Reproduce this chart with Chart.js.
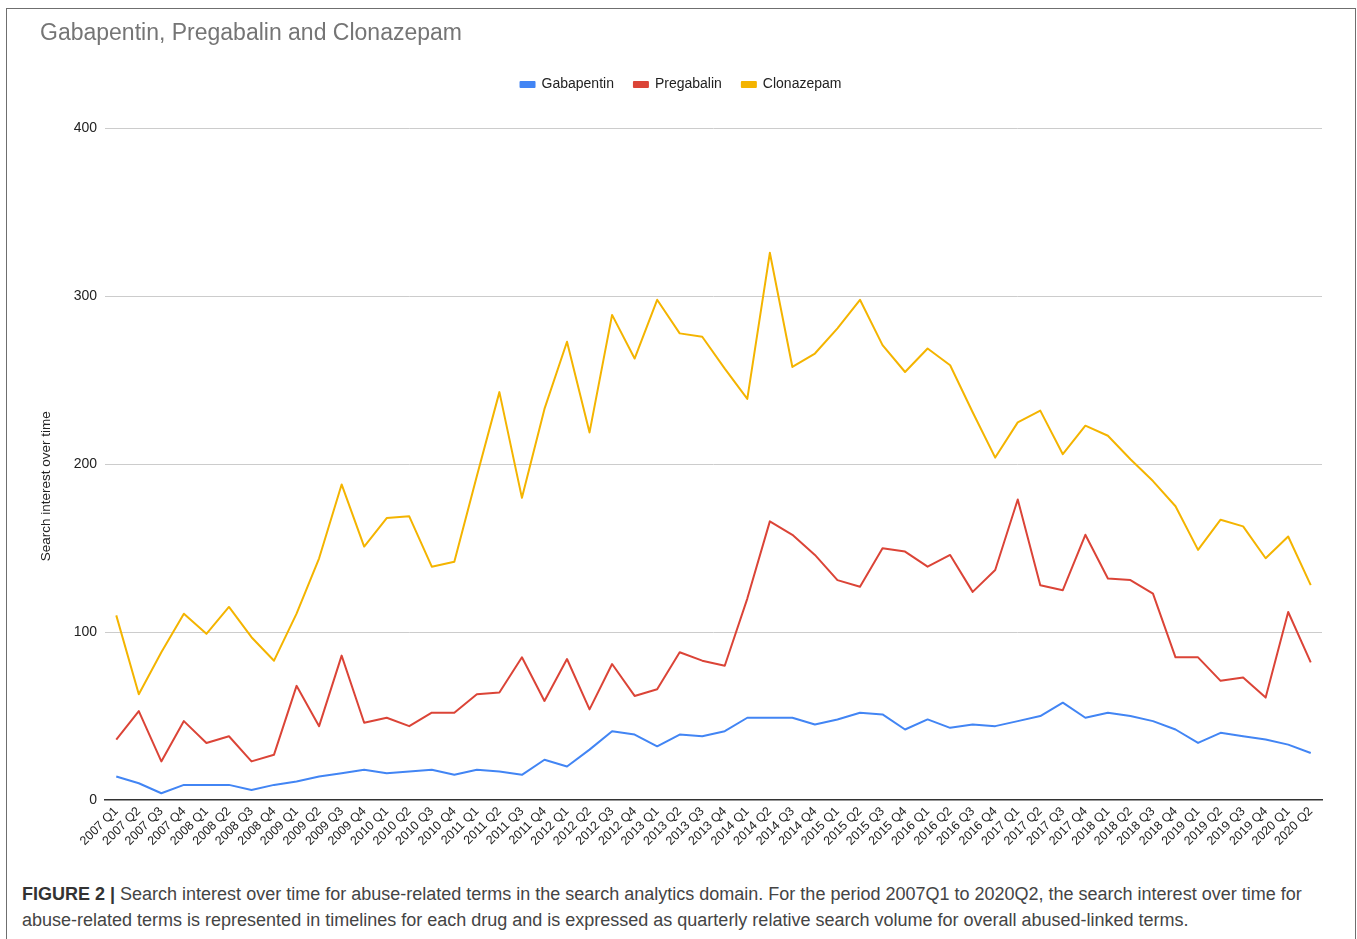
<!DOCTYPE html>
<html>
<head>
<meta charset="utf-8">
<script src="https://cdn.jsdelivr.net/npm/chart.js@4.4.0/dist/chart.umd.min.js"></script>
<style>
  html, body { margin: 0; padding: 0; background: #fff; }
  body { width: 1357px; height: 939px; position: relative; overflow: hidden; font-family: "Liberation Sans", Arial, sans-serif; }
  #frame { position: absolute; left: 6px; top: 8px; width: 1350px; height: 960px; border: 1.5px solid #6f6f6f; border-bottom: none; box-sizing: border-box; }
  #wrap { position: absolute; left: 8px; top: 10px; width: 1346px; height: 862px; }
  #caption { position: absolute; left: 22px; top: 881px; width: 1320px; font-size: 18px; line-height: 26px; color: #444; }
  #caption b { color: #333; }
</style>
</head>
<body>
<div id="frame"></div>
<div id="wrap"><canvas id="c" width="1346" height="862"></canvas></div>
<div id="caption"><b>FIGURE 2 |</b> Search interest over time for abuse-related terms in the search analytics domain. For the period 2007Q1 to 2020Q2, the search interest over time for abuse-related terms is represented in timelines for each drug and is expressed as quarterly relative search volume for overall abused-linked terms.</div>
<script>
const quarters = [
  "2007 Q1","2007 Q2","2007 Q3","2007 Q4",
  "2008 Q1","2008 Q2","2008 Q3","2008 Q4",
  "2009 Q1","2009 Q2","2009 Q3","2009 Q4",
  "2010 Q1","2010 Q2","2010 Q3","2010 Q4",
  "2011 Q1","2011 Q2","2011 Q3","2011 Q4",
  "2012 Q1","2012 Q2","2012 Q3","2012 Q4",
  "2013 Q1","2013 Q2","2013 Q3","2013 Q4",
  "2014 Q1","2014 Q2","2014 Q3","2014 Q4",
  "2015 Q1","2015 Q2","2015 Q3","2015 Q4",
  "2016 Q1","2016 Q2","2016 Q3","2016 Q4",
  "2017 Q1","2017 Q2","2017 Q3","2017 Q4",
  "2018 Q1","2018 Q2","2018 Q3","2018 Q4",
  "2019 Q1","2019 Q2","2019 Q3","2019 Q4",
  "2020 Q1","2020 Q2"
];
const gabapentin = [
  14,10,4,9, 9,9,6,9, 11,14,16,18, 16,17,18,15,
  18,17,15,24, 20,30,41,39, 32,39,38,41, 49,49,49,45,
  48,52,51,42, 48,43,45,44, 47,50,58,49, 52,50,47,42,
  34,40,38,36, 33,28
];
const pregabalin = [
  36,53,23,47, 34,38,23,27, 68,44,86,46, 49,44,52,52,
  63,64,85,59, 84,54,81,62, 66,88,83,80, 120,166,158,146,
  131,127,150,148, 139,146,124,137, 179,128,125,158, 132,131,123,85,
  85,71,73,61, 112,82
];
const clonazepam = [
  110,63,88,111, 99,115,97,83, 111,144,188,151, 168,169,139,142,
  193,243,180,233, 273,219,289,263, 298,278,276,257, 239,326,258,266,
  281,298,271,255, 269,259,231,204, 225,232,206,223, 217,203,190,175,
  149,167,163,144, 157,128
];
const yTicks = [0, 100, 200, 300, 400];
const yTitle = 'Search interest over time';

const FONT = "'Liberation Sans', Arial, sans-serif";

const legendGap = {
  id: 'legendGap',
  beforeInit(chart) {
    const lg = chart.legend;
    const orig = lg.fit;
    lg.fit = function () { orig.call(this); this.height += 27; };
  }
};

const yTitlePlugin = {
  id: 'yTitlePlugin',
  afterDraw(chart) {
    const ctx = chart.ctx;
    const a = chart.chartArea;
    ctx.save();
    ctx.translate(38, (a.top + a.bottom) / 2 + 22);
    ctx.rotate(-Math.PI / 2);
    ctx.font = "13.5px " + FONT;
    ctx.fillStyle = '#222';
    ctx.textAlign = 'center';
    ctx.textBaseline = 'middle';
    ctx.fillText(yTitle, 0, 0);
    ctx.restore();
  }
};

new Chart(document.getElementById('c'), {
  type: 'line',
  plugins: [legendGap, yTitlePlugin],
  data: {
    labels: quarters,
    datasets: [
      { label: 'Gabapentin', data: gabapentin, borderColor: '#4285F4', backgroundColor: '#4285F4' },
      { label: 'Pregabalin', data: pregabalin, borderColor: '#DB4437', backgroundColor: '#DB4437' },
      { label: 'Clonazepam', data: clonazepam, borderColor: '#F4B400', backgroundColor: '#F4B400' }
    ]
  },
  options: {
    responsive: false,
    animation: false,
    devicePixelRatio: 1,
    elements: {
      line: { borderWidth: 2, tension: 0, borderJoinStyle: 'round' },
      point: { radius: 0, hoverRadius: 0 }
    },
    layout: { padding: { left: 32, right: 32, top: 0, bottom: 0 } },
    plugins: {
      tooltip: { enabled: false },
      title: {
        display: true,
        text: 'Gabapentin, Pregabalin and Clonazepam',
        align: 'start',
        color: '#757575',
        font: { family: FONT, size: 23, weight: 'normal' },
        padding: { top: 10, bottom: 10 }
      },
      legend: {
        display: true,
        position: 'top',
        align: 'center',
        labels: {
          color: '#222',
          font: { family: FONT, size: 14 },
          boxWidth: 14,
          boxHeight: 5,
          padding: 20
        }
      }
    },
    scales: {
      x: {
        offset: true,
        grid: { display: false, drawTicks: false },
        border: { display: true, color: '#333', width: 1.5 },
        ticks: {
          color: '#222',
          font: { family: FONT, size: 12.5 },
          minRotation: 45,
          maxRotation: 45,
          autoSkip: false,
          padding: 4
        },
        afterFit: (s) => { s.height = 72; }
      },
      y: {
        min: 0,
        max: 400,
        afterBuildTicks: (s) => { s.ticks = yTicks.map(v => ({ value: v })); },
        grid: {
          color: (ctx) => ctx.tick && ctx.tick.value === 0 ? 'rgba(0,0,0,0)' : '#cccccc',
          lineWidth: 1,
          drawTicks: false
        },
        border: { display: false },
        ticks: {
          color: '#222',
          font: { family: FONT, size: 14 },
          padding: 8
        },
        title: { display: false },
        afterFit: (s) => { s.width = 65; }
      }
    }
  }
});
</script>
</body>
</html>
